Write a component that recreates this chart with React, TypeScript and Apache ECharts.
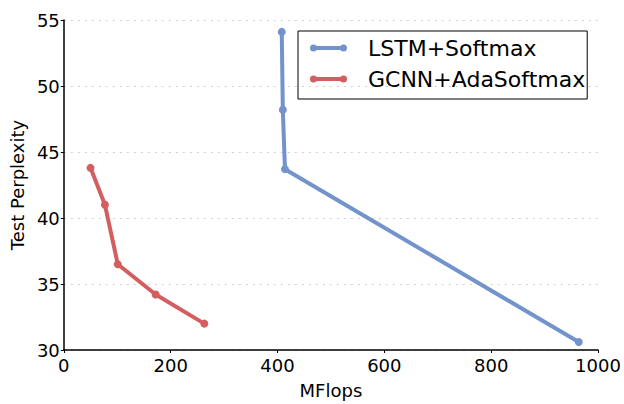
import React, { useEffect, useRef } from "react";
import * as echarts from "echarts";

const seriesNames = ["LSTM+Softmax", "GCNN+AdaSoftmax"];
const lstmMflops = [408, 410, 414, 964];
const lstmPerplexity = [54.1, 48.2, 43.7, 30.6];
const gcnnMflops = [50, 77, 101, 172, 263];
const gcnnPerplexity = [43.8, 41.0, 36.5, 34.2, 32.0];
const colors = ["#7293cb", "#d35e60"];

const FONT = "DejaVu Sans";
const legendIcon =
  "path://M0,3.5 A3.5,3.5 0 1,1 7,3.5 A3.5,3.5 0 1,1 0,3.5 Z M3.5,1.5 L33.5,1.5 L33.5,5.5 L3.5,5.5 Z M30,3.5 A3.5,3.5 0 1,1 37,3.5 A3.5,3.5 0 1,1 30,3.5 Z";

export default function App() {
  const ref = useRef<HTMLDivElement>(null);
  useEffect(() => {
    if (!ref.current) return;
    const chart = echarts.init(ref.current, null, { renderer: "svg" });
    const zip = (xs: number[], ys: number[]) => xs.map((x, i) => [x, ys[i]]);
    chart.setOption({
      animation: false,
      backgroundColor: "#ffffff",
      textStyle: { fontFamily: FONT },
      grid: { left: 62, right: 26, top: 20, bottom: 49, containLabel: false },
      legend: {
        orient: "vertical",
        left: 298,
        top: 31,
        icon: legendIcon,
        itemWidth: 37,
        itemHeight: 7,
        itemGap: 5,
        borderColor: "#000000",
        borderWidth: 1,
        padding: [4, 2, 7, 12],
        textStyle: {
          fontFamily: FONT,
          fontSize: 22,
          color: "#000000",
          lineHeight: 26,
          padding: [0, 0, 0, 16],
        },
        data: seriesNames,
      },
      xAxis: {
        type: "value",
        min: 0,
        max: 1000,
        interval: 200,
        name: "MFlops",
        nameLocation: "middle",
        nameGap: 31,
        nameTextStyle: { fontFamily: FONT, fontSize: 18, color: "#000" },
        axisLine: { show: true, lineStyle: { color: "#000", width: 1.5 } },
        axisTick: { show: true, length: 3, lineStyle: { color: "#000" } },
        axisLabel: {
          fontFamily: FONT,
          fontSize: 18,
          color: "#000",
          margin: 6,
          formatter: (v: number) => String(v),
        },
        splitLine: { show: false },
      },
      yAxis: {
        type: "value",
        min: 30,
        max: 55,
        interval: 5,
        name: "Test Perplexity",
        nameLocation: "middle",
        nameGap: 36,
        nameTextStyle: { fontFamily: FONT, fontSize: 18, color: "#000" },
        axisLine: { show: true, lineStyle: { color: "#000", width: 1.5 } },
        axisTick: { show: true, length: 3, lineStyle: { color: "#000" } },
        axisLabel: {
          fontFamily: FONT,
          fontSize: 18,
          color: "#000",
          margin: 4,
          formatter: (v: number) => String(v),
        },
        splitLine: { show: true, lineStyle: { color: "#d0d0d0", type: [2, 5], width: 1 } },
      },
      series: [
        {
          name: seriesNames[0],
          type: "line",
          data: zip(lstmMflops, lstmPerplexity),
          symbol: "circle",
          symbolSize: 8,
          color: colors[0],
          lineStyle: { width: 4, color: colors[0] },
          itemStyle: { color: colors[0] },
        },
        {
          name: seriesNames[1],
          type: "line",
          data: zip(gcnnMflops, gcnnPerplexity),
          symbol: "circle",
          symbolSize: 8,
          color: colors[1],
          lineStyle: { width: 4, color: colors[1] },
          itemStyle: { color: colors[1] },
        },
      ],
    });
    return () => chart.dispose();
  }, []);
  return (
    <div
      ref={ref}
      style={{ position: "fixed", left: 0, top: 0, width: 624, height: 404 }}
    />
  );
}
